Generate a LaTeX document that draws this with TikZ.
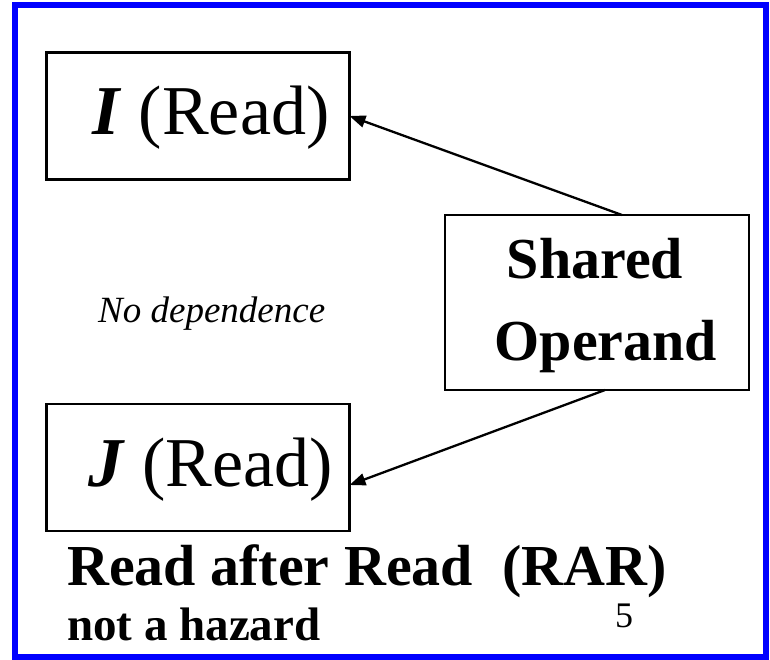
\documentclass[tikz,border=0pt]{standalone}
\usepackage{fontspec}
\setmainfont{Liberation Serif}
\usetikzlibrary{arrows.meta}
\definecolor{frameblue}{RGB}{0,0,255}
\begin{document}
\begin{tikzpicture}[x=1pt,y=-1pt,
  box/.style={draw, line width=2.5pt, inner sep=0pt, outer sep=0pt},
  txt/.style={inner sep=0pt, anchor=base west},
  conn/.style={line width=2.3pt, -{Triangle[length=16pt,width=12pt]}}
]
\useasboundingbox (0,0) rectangle (770,659);
% slide frame
\draw[frameblue, line width=6pt] (14.5,5) rectangle (766,657);

% instruction boxes and the operand box
\node[box, minimum width=303pt, minimum height=127pt] (I) at (198,116) {};
\node[box, minimum width=303pt, minimum height=127pt] (J) at (198,467.5) {};
\node[box, minimum width=304pt, minimum height=175pt] (S) at (597,302.5) {};

% box texts
\node[txt, font=\fontsize{70}{70}\selectfont] (It) at (92,134) {\textbf{\textit{I}} (Read)};
\node[txt, font=\fontsize{70}{70}\selectfont] (Jt) at (88,486) {\textbf{\textit{J}} (Read)};
\node[inner sep=0pt, anchor=base, font=\fontsize{58}{58}\selectfont\bfseries] (S1) at (595,278) {Shared};
\node[inner sep=0pt, anchor=base, font=\fontsize{58}{58}\selectfont\bfseries] (S2) at (606,360) {Operand};

% connectors
\draw[conn] ([xshift=-127pt]S.north east) -- (I.east);
\draw[conn] ([xshift=-144pt]S.south east) -- ([yshift=-17.5pt]J.east);

% free labels
\node[txt, font=\fontsize{37}{37}\selectfont\itshape] (nd) at (98,322) {No dependence};
\node[txt, font=\fontsize{58}{58}\selectfont\bfseries] (rar) at (67,585) {Read after Read~~(RAR)};
\node[txt, font=\fontsize{47}{47}\selectfont\bfseries] (nh) at (67,640) {not a hazard};
\node[txt, font=\fontsize{36}{36}\selectfont] (pg) at (615,627) {5};
\end{tikzpicture}
\end{document}
